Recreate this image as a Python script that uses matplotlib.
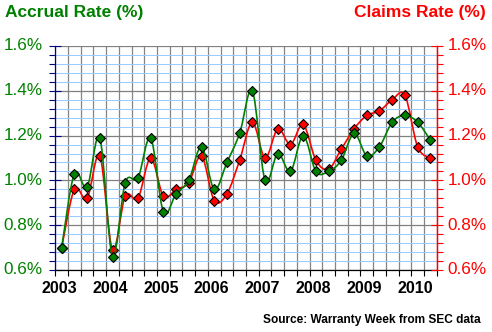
import matplotlib
matplotlib.use("Agg")
import matplotlib.pyplot as plt
from matplotlib.path import Path
from matplotlib.patches import PathPatch
from matplotlib.ticker import MultipleLocator, FixedLocator
import numpy as np

plt.rcParams['font.family'] = ['Liberation Sans', 'DejaVu Sans']

years = ['2003', '2004', '2005', '2006', '2007', '2008', '2009', '2010']
accrual = [0.70, 1.03, 0.97, 1.19, 0.66, 0.99, 1.01, 1.19,
           0.86, 0.94, 1.00, 1.15, 0.96, 1.08, 1.21, 1.40,
           1.00, 1.12, 1.04, 1.20, 1.04, 1.04, 1.09, 1.21,
           1.11, 1.15, 1.26, 1.29, 1.26, 1.18]
claims = [0.70, 0.96, 0.92, 1.11, 0.69, 0.93, 0.92, 1.10,
          0.93, 0.96, 0.99, 1.11, 0.91, 0.94, 1.09, 1.26,
          1.10, 1.23, 1.16, 1.25, 1.09, 1.05, 1.14, 1.23,
          1.29, 1.31, 1.36, 1.38, 1.15, 1.10]
yticks = [0.6, 0.8, 1.0, 1.2, 1.4, 1.6]

GREEN = '#008000'
RED = '#ff0000'

fig = plt.figure(figsize=(4.92, 3.32), dpi=100)
ax = fig.add_axes([55.3/492, 1-270/332, (436.7-55.3)/492, (270-46)/332])
n = len(accrual)
x = np.arange(n)

def smooth_path(xs, ys):
    pts = np.column_stack([xs, ys]).astype(float)
    verts = [pts[0]]
    codes = [Path.MOVETO]
    m = len(pts)
    for i in range(m - 1):
        p0 = pts[i - 1] if i > 0 else pts[i]
        p1 = pts[i]
        p2 = pts[i + 1]
        p3 = pts[i + 2] if i + 2 < m else pts[i + 1]
        c1 = p1 + (p2 - p0) / 6.0
        c2 = p2 - (p3 - p1) / 6.0
        verts += [c1, c2, p2]
        codes += [Path.CURVE4] * 3
    return Path(verts, codes)

for data, col, z in [(claims, RED, 3), (accrual, GREEN, 4)]:
    patch = PathPatch(smooth_path(x, data), facecolor='none', edgecolor=col,
                      lw=1.2, zorder=z)
    ax.add_patch(patch)
    ax.plot(x, data, linestyle='none', marker='D', markersize=5.2,
            markerfacecolor=col, markeredgecolor='black', markeredgewidth=0.8,
            zorder=z + 0.5, clip_on=False)

ax.set_xlim(-0.5, n - 0.5)
ax.set_ylim(0.6, 1.6)

ax.set_axisbelow(True)
ax.xaxis.set_major_locator(FixedLocator(np.arange(-0.5, n, 1.0)))
ax.set_xticklabels([])
ax.yaxis.set_major_locator(FixedLocator(yticks))
ax.yaxis.set_minor_locator(MultipleLocator(0.04))
ax.grid(which='minor', axis='y', color='#99ccff', lw=0.75)
ax.grid(which='major', axis='y', color='#808080', lw=0.9)
ax.grid(which='major', axis='x', color='#858585', lw=0.9)

ax.tick_params(axis='x', which='major', direction='out', length=4, color='black',
               width=0.8, bottom=True)
ax.tick_params(axis='y', which='major', direction='inout', length=9, color='#000080',
               width=0.8)
ax.tick_params(axis='y', which='minor', direction='out', length=4, color='#000080',
               width=0.8)
ax.set_yticklabels([])

ax.spines['top'].set_visible(False)
ax.spines['left'].set_color('#000080')
ax.spines['bottom'].set_color('black')
ax.spines['right'].set_color(RED)
for s in ax.spines.values():
    s.set_linewidth(0.9)

ax2 = ax.twinx()
ax2.set_ylim(0.6, 1.6)
ax2.yaxis.set_major_locator(FixedLocator(yticks))
ax2.yaxis.set_minor_locator(MultipleLocator(0.04))
ax2.tick_params(axis='y', which='major', direction='inout', length=9, color=RED, width=0.8)
ax2.tick_params(axis='y', which='minor', direction='out', length=4, color=RED, width=0.8)
ax2.set_yticklabels([])
for s in ['top', 'left', 'bottom']:
    ax2.spines[s].set_visible(False)
ax2.spines['right'].set_color(RED)
ax2.spines['right'].set_linewidth(0.9)

for v in yticks:
    ax.annotate(f'{v:.1f}%', xy=(-0.5, v), xycoords='data', xytext=(-9, 0),
                textcoords='offset points', ha='right', va='center', color=GREEN,
                fontsize=12.3, annotation_clip=False)
    ax.annotate(f'{v:.1f}%', xy=(n - 0.5, v), xycoords='data', xytext=(8, 0),
                textcoords='offset points', ha='left', va='center', color=RED,
                fontsize=12.3, annotation_clip=False)

for i, yr in enumerate(years):
    ax.annotate(yr, xy=(i * 4 - 0.2, 0.6), xycoords='data', xytext=(0, -8),
                textcoords='offset points', ha='center', va='top', color='black',
                fontsize=11.5, fontweight='bold', annotation_clip=False)

fig.text(5/492, 1-12/332, 'Accrual Rate (%)', color=GREEN, fontsize=12.5,
         fontweight='bold', ha='left', va='center')
fig.text(486/492, 1-12/332, 'Claims Rate (%)', color=RED, fontsize=12.5,
         fontweight='bold', ha='right', va='center')
fig.text(481/492, 1-320/332, 'Source: Warranty Week from SEC data', color='black',
         fontsize=8.6, fontweight='bold', ha='right', va='center')

fig.savefig('out.png', dpi=100)
